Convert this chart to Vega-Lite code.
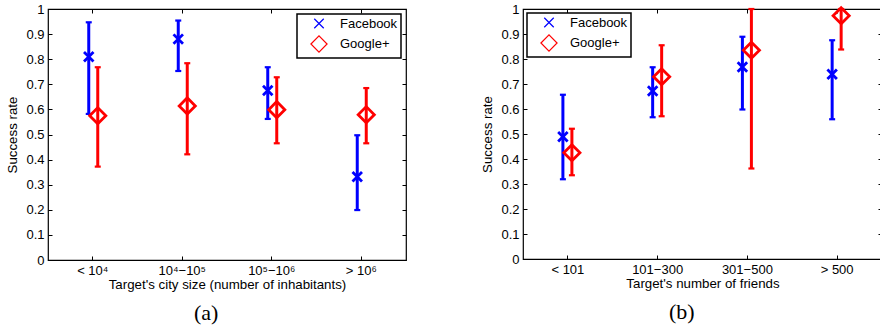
{
  "$schema": "https://vega.github.io/schema/vega-lite/v6.json",
  "background": "white",
  "padding": {"left": 5, "top": 1, "right": 2, "bottom": 0},
  "config": {
    "font": "Liberation Sans",
    "view": {"stroke": "black", "strokeWidth": 1.2},
    "axis": {"grid": false, "domain": false, "labelColor": "black", "titleColor": "black", "tickColor": "black", "labelFontSize": 13, "titleFontSize": 13.3, "titleFontWeight": "normal", "tickSize": -4, "tickWidth": 1, "labelPadding": 8},
    "legend": {"strokeColor": "black", "strokeWidth": 1.5, "fillColor": "white", "padding": 3, "labelFontSize": 13, "labelColor": "black", "symbolSize": 120, "symbolStrokeWidth": 1.2, "rowPadding": 2, "labelOffset": 12, "symbolOffset": 10},
    "title": {"font": "Liberation Serif", "fontSize": 22, "fontWeight": "normal", "color": "black"}
  },
  "spacing": 72,
  "resolve": {"scale": {"color": "independent", "shape": "independent", "size": "independent", "xOffset": "independent"}},
  "hconcat": [
    {
      "width": 358,
      "height": 251,
      "title": {"text": "(a)", "orient": "bottom", "frame": "bounds", "anchor": "middle", "offset": 13},
      "data": {"values": [
        {"cat": "< 10⁴", "net": "Facebook", "rate": 0.81, "lo": 0.582, "hi": 0.947},
        {"cat": "< 10⁴", "net": "Google+", "rate": 0.575, "lo": 0.372, "hi": 0.768},
        {"cat": "10⁴−10⁵", "net": "Facebook", "rate": 0.88, "lo": 0.753, "hi": 0.954},
        {"cat": "10⁴−10⁵", "net": "Google+", "rate": 0.614, "lo": 0.421, "hi": 0.784},
        {"cat": "10⁵−10⁶", "net": "Facebook", "rate": 0.675, "lo": 0.562, "hi": 0.768},
        {"cat": "10⁵−10⁶", "net": "Google+", "rate": 0.599, "lo": 0.465, "hi": 0.728},
        {"cat": "> 10⁶", "net": "Facebook", "rate": 0.332, "lo": 0.199, "hi": 0.497},
        {"cat": "> 10⁶", "net": "Google+", "rate": 0.579, "lo": 0.465, "hi": 0.685}
      ]},
      "encoding": {
        "xOffset": {"field": "net", "type": "nominal", "scale": {"type": "point", "domain": ["Facebook", "Google+"], "range": [40.75, 49.75], "padding": 0}},
        "color": {"field": "net", "type": "nominal", "scale": {"domain": ["Facebook", "Google+"], "range": ["#0000ff", "#ff0000"]}, "legend": {"orient": "top-right", "offset": 5, "title": null}}
      },
      "layer": [
        {
          "mark": {"type": "rule", "strokeWidth": 3},
          "encoding": {
            "x": {"field": "cat", "type": "nominal", "sort": null, "scale": {"paddingInner": 0, "paddingOuter": 0}, "axis": {"orient": "top", "labels": false, "title": null}},
            "y": {"field": "lo", "type": "quantitative", "scale": {"domain": [0, 1]}, "axis": {"orient": "right", "labels": false, "title": null, "values": [0, 0.1, 0.2, 0.3, 0.4, 0.5, 0.6, 0.7, 0.8, 0.9, 1]}},
            "y2": {"field": "hi"}
          }
        },
        {
          "mark": {"type": "point", "filled": false, "opacity": 1, "shape": "M-1,0L1,0", "size": 36, "strokeWidth": 2.2},
          "encoding": {
            "x": {"field": "cat", "type": "nominal", "sort": null, "axis": null},
            "y": {"field": "lo", "type": "quantitative", "axis": null}
          }
        },
        {
          "mark": {"type": "point", "filled": false, "opacity": 1, "shape": "M-1,0L1,0", "size": 36, "strokeWidth": 2.2},
          "encoding": {
            "x": {"field": "cat", "type": "nominal", "sort": null, "axis": null},
            "y": {"field": "hi", "type": "quantitative", "axis": null}
          }
        },
        {
          "mark": {"type": "point", "filled": false, "opacity": 1, "strokeWidth": 2.8},
          "encoding": {
            "x": {"field": "cat", "type": "nominal", "sort": null, "axis": {"orient": "bottom", "title": "Target's city size (number of inhabitants)", "labelAngle": 0, "titlePadding": 0}},
            "y": {"field": "rate", "type": "quantitative", "axis": {"orient": "left", "title": "Success rate", "format": ".1~f", "values": [0, 0.1, 0.2, 0.3, 0.4, 0.5, 0.6, 0.7, 0.8, 0.9, 1], "titlePadding": 6}},
            "shape": {"field": "net", "type": "nominal", "scale": {"domain": ["Facebook", "Google+"], "range": ["M-1,-1L1,1M-1,1L1,-1", "diamond"]}, "legend": {"orient": "top-right", "offset": 5, "title": null}},
            "size": {"field": "net", "type": "nominal", "scale": {"domain": ["Facebook", "Google+"], "range": [90, 260]}, "legend": null}
          }
        }
      ],
      "resolve": {"axis": {"x": "independent", "y": "independent"}}
    },
    {
      "width": 359,
      "height": 250,
      "title": {"text": "(b)", "orient": "bottom", "frame": "bounds", "anchor": "middle", "offset": 13},
      "data": {"values": [
        {"cat": "< 101", "net": "Facebook", "rate": 0.489, "lo": 0.319, "hi": 0.657},
        {"cat": "< 101", "net": "Google+", "rate": 0.425, "lo": 0.335, "hi": 0.521},
        {"cat": "101−300", "net": "Facebook", "rate": 0.672, "lo": 0.567, "hi": 0.767},
        {"cat": "101−300", "net": "Google+", "rate": 0.729, "lo": 0.571, "hi": 0.855},
        {"cat": "301−500", "net": "Facebook", "rate": 0.768, "lo": 0.598, "hi": 0.889},
        {"cat": "301−500", "net": "Google+", "rate": 0.835, "lo": 0.362, "hi": 1.0},
        {"cat": "> 500", "net": "Facebook", "rate": 0.739, "lo": 0.559, "hi": 0.875},
        {"cat": "> 500", "net": "Google+", "rate": 0.973, "lo": 0.838, "hi": 1.0}
      ]},
      "encoding": {
        "xOffset": {"field": "net", "type": "nominal", "scale": {"type": "point", "domain": ["Facebook", "Google+"], "range": [39.9, 48.9], "padding": 0}},
        "color": {"field": "net", "type": "nominal", "scale": {"domain": ["Facebook", "Google+"], "range": ["#0000ff", "#ff0000"]}, "legend": {"orient": "top-left", "offset": 4, "title": null}}
      },
      "layer": [
        {
          "mark": {"type": "rule", "strokeWidth": 3},
          "encoding": {
            "x": {"field": "cat", "type": "nominal", "sort": null, "scale": {"paddingInner": 0, "paddingOuter": 0}, "axis": {"orient": "top", "labels": false, "title": null}},
            "y": {"field": "lo", "type": "quantitative", "scale": {"domain": [0, 1]}, "axis": {"orient": "right", "labels": false, "title": null, "values": [0, 0.1, 0.2, 0.3, 0.4, 0.5, 0.6, 0.7, 0.8, 0.9, 1]}},
            "y2": {"field": "hi"}
          }
        },
        {
          "mark": {"type": "point", "filled": false, "opacity": 1, "shape": "M-1,0L1,0", "size": 36, "strokeWidth": 2.2},
          "encoding": {
            "x": {"field": "cat", "type": "nominal", "sort": null, "axis": null},
            "y": {"field": "lo", "type": "quantitative", "axis": null}
          }
        },
        {
          "mark": {"type": "point", "filled": false, "opacity": 1, "shape": "M-1,0L1,0", "size": 36, "strokeWidth": 2.2},
          "encoding": {
            "x": {"field": "cat", "type": "nominal", "sort": null, "axis": null},
            "y": {"field": "hi", "type": "quantitative", "axis": null}
          }
        },
        {
          "mark": {"type": "point", "filled": false, "opacity": 1, "strokeWidth": 2.8},
          "encoding": {
            "x": {"field": "cat", "type": "nominal", "sort": null, "axis": {"orient": "bottom", "title": "Target's number of friends", "labelAngle": 0, "titlePadding": 0}},
            "y": {"field": "rate", "type": "quantitative", "axis": {"orient": "left", "title": "Success rate", "format": ".1~f", "values": [0, 0.1, 0.2, 0.3, 0.4, 0.5, 0.6, 0.7, 0.8, 0.9, 1], "titlePadding": 6}},
            "shape": {"field": "net", "type": "nominal", "scale": {"domain": ["Facebook", "Google+"], "range": ["M-1,-1L1,1M-1,1L1,-1", "diamond"]}, "legend": {"orient": "top-left", "offset": 4, "title": null}},
            "size": {"field": "net", "type": "nominal", "scale": {"domain": ["Facebook", "Google+"], "range": [90, 260]}, "legend": null}
          }
        }
      ],
      "resolve": {"axis": {"x": "independent", "y": "independent"}}
    }
  ]
}
